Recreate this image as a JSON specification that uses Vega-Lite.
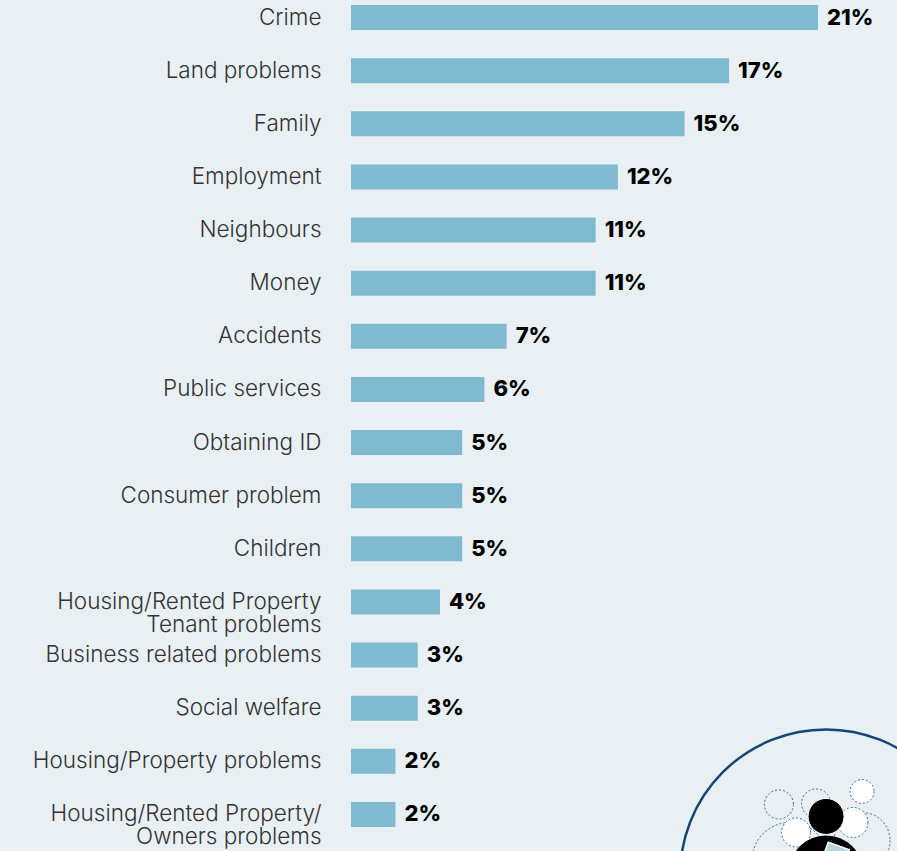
{
"$schema":"https://vega.github.io/schema/vega-lite/v6.json",
"width":546,"height":851,
"autosize":{"type":"none"},
"padding":{"left":351,"top":0,"right":0,"bottom":0},
"background":"#e9f0f4",
"view":{"stroke":null},
"data":{"values":[
{"problem":"Crime","share":0.21},
{"problem":"Land problems","share":0.17},
{"problem":"Family","share":0.15},
{"problem":"Employment","share":0.12},
{"problem":"Neighbours","share":0.11},
{"problem":"Money","share":0.11},
{"problem":"Accidents","share":0.07},
{"problem":"Public services","share":0.06},
{"problem":"Obtaining ID","share":0.05},
{"problem":"Consumer problem","share":0.05},
{"problem":"Children","share":0.05},
{"problem":"Housing/Rented Property|Tenant problems","share":0.04},
{"problem":"Business related problems","share":0.03},
{"problem":"Social welfare","share":0.03},
{"problem":"Housing/Property problems","share":0.02},
{"problem":"Housing/Rented Property/|Owners problems","share":0.02}
]},
"encoding":{
"y":{"field":"problem","type":"nominal","title":null,
"scale":{"domain":["Crime","Land problems","Family","Employment","Neighbours","Money","Accidents","Public services","Obtaining ID","Consumer problem","Children","Housing/Rented Property|Tenant problems","Business related problems","Social welfare","Housing/Property problems","Housing/Rented Property/|Owners problems"],"range":[-9,841],"paddingInner":0.53,"paddingOuter":0.265},
"axis":{"domain":false,"ticks":false,"labelPadding":30,"labelFont":"Inter","labelFontSize":22.5,"labelFontWeight":300,"labelColor":"#333333","labelLimit":345,"labelExpr":"split(datum.label,'|')","labelLineHeight":23,"grid":false}},
"x":{"field":"share","type":"quantitative","title":null,"scale":{"domain":[0,0.2455],"nice":false},"axis":null}
},
"layer":[
{"mark":{"type":"bar","color":"#80bad0"}},
{"mark":{"type":"text","align":"left","dx":9,"font":"Inter","fontSize":22,"fontWeight":800,"color":"#000000"},
 "encoding":{"text":{"field":"share","type":"quantitative","format":".0%"}}},
{"data":{"values":[{"share":0.2136}]},"mark":{"type":"point","filled":false,"stroke":"#16457a","strokeWidth":2.5,"opacity":1,"size":85264,"yOffset":61},
 "encoding":{"y":{"datum":"Housing/Rented Property/|Owners problems"}}},
{"data":{"values":[{"share":0.1974}]},"mark":{"type":"point","filled":false,"stroke":"#3d6594","strokeWidth":1,"strokeDash":[2,2],"opacity":1,"size":5776,"yOffset":46},
 "encoding":{"y":{"datum":"Housing/Rented Property/|Owners problems"}}},
{"data":{"values":[{"share":0.2298}]},"mark":{"type":"point","filled":false,"stroke":"#3d6594","strokeWidth":1,"strokeDash":[2,2],"opacity":1,"size":3136,"yOffset":26},
 "encoding":{"y":{"datum":"Housing/Rented Property/|Owners problems"}}},
{"data":{"values":[{"share":0.1924}]},"mark":{"type":"point","filled":false,"stroke":"#3d6594","strokeWidth":1,"strokeDash":[2,2],"opacity":1,"size":841,"yOffset":-10},
 "encoding":{"y":{"datum":"Housing/Rented Property/|Owners problems"}}},
{"data":{"values":[{"share":0.2091}]},"mark":{"type":"point","filled":false,"stroke":"#3d6594","strokeWidth":1,"strokeDash":[2,2],"opacity":1,"size":841,"yOffset":-11},
 "encoding":{"y":{"datum":"Housing/Rented Property/|Owners problems"}}},
{"data":{"values":[{"share":0.2298}]},"mark":{"type":"point","filled":true,"fill":"#ffffff","stroke":"#3d6594","strokeWidth":1,"strokeDash":[2,2],"opacity":1,"size":576,"yOffset":-23},
 "encoding":{"y":{"datum":"Housing/Rented Property/|Owners problems"}}},
{"data":{"values":[{"share":0.2001}]},"mark":{"type":"point","filled":true,"fill":"#ffffff","stroke":"#3d6594","strokeWidth":1,"strokeDash":[2,2],"opacity":1,"size":841,"yOffset":18},
 "encoding":{"y":{"datum":"Housing/Rented Property/|Owners problems"}}},
{"data":{"values":[{"share":0.2257}]},"mark":{"type":"point","filled":true,"fill":"#ffffff","stroke":"#3d6594","strokeWidth":1,"strokeDash":[2,2],"opacity":1,"size":900,"yOffset":8},
 "encoding":{"y":{"datum":"Housing/Rented Property/|Owners problems"}}},
{"data":{"values":[{"share":0.2136}]},"mark":{"type":"point","filled":true,"fill":"#000000","opacity":1,"size":5476,"yOffset":58},
 "encoding":{"y":{"datum":"Housing/Rented Property/|Owners problems"}}},
{"data":{"values":[{"share":0.2136}]},"mark":{"type":"point","filled":true,"fill":"#000000","stroke":"#ffffff","strokeWidth":1,"opacity":1,"size":1296,"yOffset":2},
 "encoding":{"y":{"datum":"Housing/Rented Property/|Owners problems"}}},
{"data":{"values":[{"share":0.2176}]},"mark":{"type":"point","shape":"square","angle":20,"filled":true,"fill":"#b9d4e0","stroke":"#ffffff","strokeWidth":1.5,"opacity":1,"size":500,"yOffset":42},
 "encoding":{"y":{"datum":"Housing/Rented Property/|Owners problems"}}}
]
}
